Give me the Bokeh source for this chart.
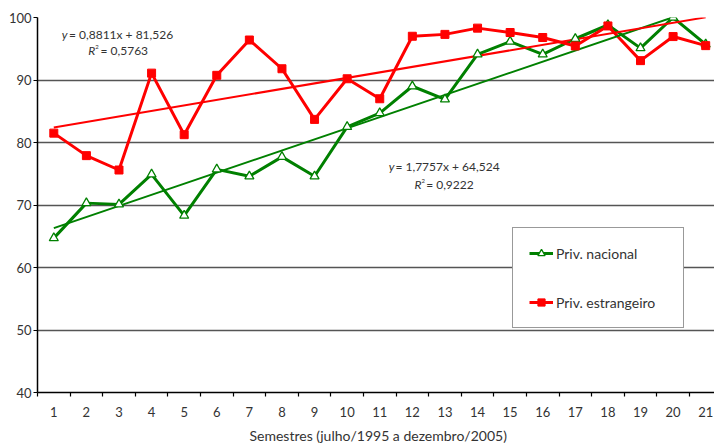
from bokeh.plotting import figure
from bokeh.models import Range1d, FixedTicker, Legend, LegendItem, Label, Title
from bokeh.embed import file_html
from bokeh.resources import INLINE

# ---- data ----
semestres = list(range(1, 22))
x_tick_labels = [str(s) for s in semestres]
priv_nacional = [64.7, 70.3, 70.1, 74.9, 68.3, 75.7, 74.6, 77.7, 74.6, 82.5,
                 84.7, 89.0, 86.9, 94.1, 96.15, 94.1, 96.6, 98.8, 95.1, 100.0, 95.7]
priv_estrangeiro = [81.5, 77.9, 75.6, 91.1, 81.25, 90.75, 96.4, 91.8, 83.7, 90.2,
                    87.0, 97.0, 97.3, 98.3, 97.6, 96.8, 95.45, 98.65, 93.1, 96.95, 95.5]
trend_nacional = (1.7757, 64.524)      # slope, intercept
trend_estrangeiro = (0.8811, 81.526)
r2_nacional = "0,9222"
r2_estrangeiro = "0,5763"
y_ticks = [40, 50, 60, 70, 80, 90, 100]
x_title = "Semestres (julho/1995 a dezembro/2005)"

FONT = "Lato"
GREEN = "#008000"
RED = "#ff0000"
TXT = "#333333"

p = figure(width=714, height=448, output_backend="svg", toolbar_location=None,
           x_range=Range1d(0.5, 21.27), y_range=Range1d(40, 100),
           min_border_left=37, min_border_right=0, min_border_top=17, min_border_bottom=10)
p.outline_line_color = None
p.background_fill_color = "white"
p.border_fill_color = "white"

# image pixel -> data helpers (for annotation placement only)
def xd(px):
    return 1 + (px - 53.3) / 32.6

def yd(py):
    return 100 - (py - 17.3) / 6.24

# grids
p.xgrid.visible = False
p.ygrid.ticker = FixedTicker(ticks=y_ticks)
p.ygrid.grid_line_color = "#555555"
p.ygrid.grid_line_width = 1.5

# axes
p.yaxis.ticker = FixedTicker(ticks=y_ticks)
p.yaxis.axis_line_color = "black"
p.yaxis.axis_line_width = 1.5
p.yaxis.major_tick_out = 4
p.yaxis.major_tick_in = 0
p.yaxis.major_tick_line_width = 1.2
p.yaxis.minor_tick_line_color = None
p.yaxis.major_label_standoff = 2
p.yaxis.major_label_text_font = FONT
p.yaxis.major_label_text_font_size = "13px"
p.yaxis.major_label_text_color = TXT

p.xaxis.ticker = FixedTicker(ticks=semestres,
                             minor_ticks=[s - 0.5 for s in semestres] + [semestres[-1] + 0.5])
p.xaxis.major_label_overrides = {s: l for s, l in zip(semestres, x_tick_labels)}
p.xaxis.axis_line_color = "black"
p.xaxis.axis_line_width = 1.5
p.xaxis.major_tick_out = 0
p.xaxis.major_tick_in = 0
p.xaxis.minor_tick_out = 4
p.xaxis.minor_tick_in = 0
p.xaxis.minor_tick_line_color = "black"
p.xaxis.minor_tick_line_width = 1.2
p.xaxis.major_label_standoff = 10
p.xaxis.major_label_text_font = FONT
p.xaxis.major_label_text_font_size = "13px"
p.xaxis.major_label_text_color = TXT

# x axis title as a below-title aligned like the reference
t = Title(text=x_title, align="left", offset=212, standoff=10,
          text_font=FONT, text_font_size="14px", text_font_style="normal",
          text_color=TXT)
p.add_layout(t, "below")

# series
ln_n = p.line(semestres, priv_nacional, line_color=GREEN, line_width=3)
ln_e = p.line(semestres, priv_estrangeiro, line_color=RED, line_width=3)

# trend lines
tx = [semestres[0], semestres[-1]]
p.line(tx, [trend_nacional[0] * x + trend_nacional[1] for x in tx], line_color=GREEN, line_width=2)
p.line(tx, [trend_estrangeiro[0] * x + trend_estrangeiro[1] for x in tx], line_color=RED, line_width=2)

sc_n = p.scatter(semestres, priv_nacional, marker="triangle", size=9,
                 fill_color="white", line_color=GREEN, line_width=1.3)
sc_e = p.scatter(semestres, priv_estrangeiro, marker="square", size=8,
                 fill_color=RED, line_color=RED, line_width=1)

legend = Legend(items=[LegendItem(label="Priv. nacional", renderers=[ln_n, sc_n]),
                       LegendItem(label="Priv. estrangeiro", renderers=[ln_e, sc_e])],
                location=(475, 64), orientation="vertical")
legend.padding = 16
legend.margin = 0
legend.spacing = 31
legend.glyph_width = 24
legend.glyph_height = 18
legend.label_height = 18
legend.label_width = 111
legend.label_standoff = 3
legend.label_text_font = FONT
legend.label_text_font_size = "14px"
legend.label_text_color = TXT
legend.border_line_color = "#333333"
legend.border_line_width = 1
legend.background_fill_color = "white"
legend.background_fill_alpha = 1
p.add_layout(legend)

# equation annotations
EQ_SIZE = "12px"
def eq(px_y_right, px_eq_left, py1, px_r_left, px_eq2_left, py2, slope, intercept, r2):
    s = f"= {slope:.4f}x + {intercept:.3f}".replace(".", ",")
    p.add_layout(Label(x=xd(px_y_right), y=yd(py1), text="y", text_font=FONT, text_font_style="italic",
                       text_font_size=EQ_SIZE, text_color=TXT, text_align="right", text_baseline="middle"))
    p.add_layout(Label(x=xd(px_eq_left), y=yd(py1), text=s, text_font=FONT,
                       text_font_size=EQ_SIZE, text_color=TXT, text_align="left", text_baseline="middle"))
    p.add_layout(Label(x=xd(px_r_left), y=yd(py2), text="R", text_font=FONT, text_font_style="italic",
                       text_font_size=EQ_SIZE, text_color=TXT, text_align="left", text_baseline="middle"))
    p.add_layout(Label(x=xd(px_r_left + 7), y=yd(py2 - 4), text="2", text_font=FONT,
                       text_font_size="6px", text_color=TXT, text_align="left", text_baseline="middle"))
    p.add_layout(Label(x=xd(px_eq2_left), y=yd(py2), text="= " + r2, text_font=FONT,
                       text_font_size=EQ_SIZE, text_color=TXT, text_align="left", text_baseline="middle"))

eq(67, 68.5, 34.5, 87.7, 100, 50.5, trend_estrangeiro[0], trend_estrangeiro[1], r2_estrangeiro)
eq(394, 395, 165.7, 414, 425.7, 184.3, trend_nacional[0], trend_nacional[1], r2_nacional)

open("out.html", "w").write(file_html(p, INLINE))
